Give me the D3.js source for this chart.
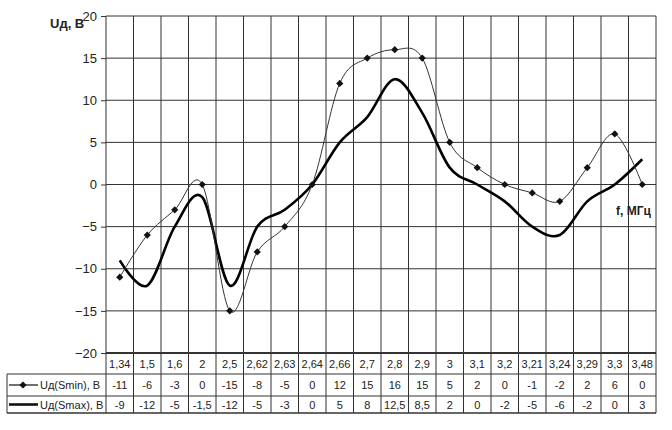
<!DOCTYPE html>
<html>
<head>
<meta charset="utf-8">
<script src="https://cdn.jsdelivr.net/npm/d3@7/dist/d3.min.js"></script>
<style>
  body { margin: 0; background: #fff; }
  svg text { font-family: "Liberation Sans", Arial, sans-serif; fill: #222; }
</style>
</head>
<body>
<svg id="chart" width="672" height="430"></svg>
<script>
// Data
var freqs = ["1,34","1,5","1,6","2","2,5","2,62","2,63","2,64","2,66","2,7","2,8","2,9","3","3,1","3,2","3,21","3,24","3,29","3,3","3,48"];
var smin = [-11, -6, -3, 0, -15, -8, -5, 0, 12, 15, 16, 15, 5, 2, 0, -1, -2, 2, 6, 0];
var smax = [-9, -12, -5, -1.5, -12, -5, -3, 0, 5, 8, 12.5, 8.5, 2, 0, -2, -5, -6, -2, 0, 3];
var yTicks = [-20, -15, -10, -5, 0, 5, 10, 15, 20];
var seriesNames = ["Uд(Smin), В", "Uд(Smax), В"];

// plot area
var pl = 106, pr = 656, pt = 16, pb = 353;
var svg = d3.select("#chart");

var x = d3.scaleBand().domain(freqs).range([pl, pr]);
var y = d3.scaleLinear().domain([-20, 20]).range([pb, pt]);
var cx = function(i) { return x(freqs[i]) + x.bandwidth() / 2; };
var fmt = function(v) { return String(v).replace(".", ","); };
var diamond = d3.symbol().type(d3.symbolSquare).size(26)();

// grid: horizontal
svg.append("g").selectAll("line").data(yTicks).enter().append("line")
  .attr("x1", pl).attr("x2", pr)
  .attr("y1", function(d) { return y(d); }).attr("y2", function(d) { return y(d); })
  .attr("stroke", "#333").attr("stroke-width", function(d) { return d == -20 ? 2 : 1; });

// grid: vertical (extend down through the table)
var row1 = 374, row2 = 396, row3 = 413;
var bounds = freqs.map(function(f) { return x(f); }).concat([pr]);
svg.append("g").selectAll("line").data(bounds).enter().append("line")
  .attr("x1", function(d) { return d; }).attr("x2", function(d) { return d; })
  .attr("y1", pt).attr("y2", row3)
  .attr("stroke", "#333").attr("stroke-width", 1);

// y axis
var yAxis = d3.axisLeft(y).tickValues(yTicks).tickSize(5).tickPadding(4);
var ga = svg.append("g").attr("transform", "translate(" + pl + ",0)").call(yAxis);
ga.select(".domain").remove();
ga.selectAll("line").attr("stroke", "#333");
ga.selectAll("text").style("font-size", "13px").attr("fill", "#222");

// table
svg.append("g").selectAll("line").data([row1, row2, row3]).enter().append("line")
  .attr("x1", 7).attr("x2", pr)
  .attr("y1", function(d) { return d; }).attr("y2", function(d) { return d; })
  .attr("stroke", "#333").attr("stroke-width", function(d, i) { return i == 2 ? 1.5 : 1; });
svg.append("line").attr("x1", 7).attr("x2", 7).attr("y1", row1).attr("y2", row3).attr("stroke", "#333");

svg.append("g").selectAll("text").data(freqs).enter().append("text")
  .attr("x", function(d, i) { return cx(i); }).attr("y", (pb + row1) / 2 + 4)
  .attr("text-anchor", "middle").style("font-size", "11px").text(function(d) { return d; });
[smin, smax].forEach(function(vals, k) {
  var yy = k == 0 ? (row1 + row2) / 2 + 4 : (row2 + row3) / 2 + 4;
  svg.append("g").selectAll("text").data(vals).enter().append("text")
    .attr("x", function(d, i) { return cx(i); }).attr("y", yy)
    .attr("text-anchor", "middle").style("font-size", "11px").text(fmt);
  svg.append("text").attr("x", 40).attr("y", yy).style("font-size", "11px").text(seriesNames[k]);
});
// legend keys
svg.append("line").attr("x1", 9).attr("x2", 38).attr("y1", (row1 + row2) / 2).attr("y2", (row1 + row2) / 2)
  .attr("stroke", "#111").attr("stroke-width", 1.2);
svg.append("path").attr("d", diamond)
  .attr("transform", "translate(23," + (row1 + row2) / 2 + ") rotate(45)").attr("fill", "#111");
svg.append("line").attr("x1", 9).attr("x2", 38).attr("y1", (row2 + row3) / 2).attr("y2", (row2 + row3) / 2)
  .attr("stroke", "#111").attr("stroke-width", 2.6);

// lines (Excel-style smoothing)
var line = d3.line().x(function(d, i) { return cx(i); }).y(function(d) { return y(d); })
  .curve(d3.curveCatmullRom.alpha(0));
svg.append("path").datum(smax).attr("d", line).attr("fill", "none")
  .attr("stroke", "#000").attr("stroke-width", 2.6);
svg.append("path").datum(smin).attr("d", line).attr("fill", "none")
  .attr("stroke", "#333").attr("stroke-width", 1);
svg.append("g").selectAll("path").data(smin).enter().append("path")
  .attr("d", diamond)
  .attr("transform", function(d, i) { return "translate(" + cx(i) + "," + y(d) + ") rotate(45)"; })
  .attr("fill", "#111");

// axis titles
svg.append("text").attr("x", 50).attr("y", 28).style("font-size", "13px").style("font-weight", "bold").text("Uд, В");
svg.append("text").attr("x", 616).attr("y", 215).style("font-size", "12px").style("font-weight", "bold").text("f, МГц");
</script>
</body>
</html>
